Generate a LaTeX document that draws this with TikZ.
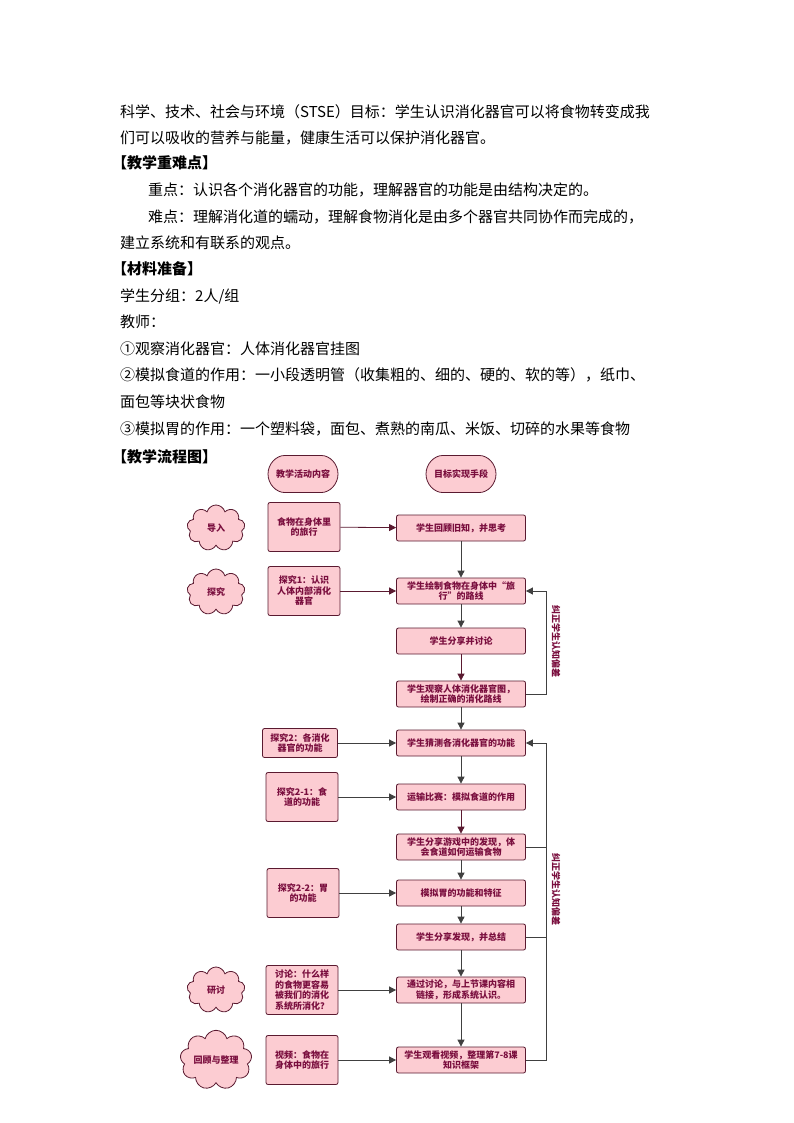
\documentclass[tikz,border=0pt]{standalone}
\usepackage{fontspec}
\setmainfont{Liberation Serif}
\newfontfamily\cjk{Noto Sans CJK SC}
\XeTeXlinebreaklocale "zh"
\usetikzlibrary{positioning,shapes.symbols,shapes.misc,arrows.meta}
\definecolor{boxfill}{HTML}{FCCCD2}
\definecolor{boxline}{HTML}{5A1A30}
\definecolor{boxtext}{HTML}{7A0E3E}
\tikzset{
  textline/.style={anchor=west,inner sep=0pt,font=\cjk\fontsize{15}{16}\selectfont},
  headline/.style={textline,font=\cjk\bfseries\fontsize{15}{16}\selectfont},
  stepbox/.style={draw=boxline,thick,fill=boxfill,rounded corners=2,
    minimum width=129,minimum height=26,align=center,text=boxtext,
    font=\cjk\bfseries\fontsize{9}{10.5}\selectfont,inner sep=1},
  leftbox/.style={stepbox,minimum width=72,minimum height=49},
  headbox/.style={stepbox,rounded rectangle,minimum width=72,minimum height=37},
  cloudbox/.style={draw=boxline,thick,fill=boxfill,cloud,cloud puffs=9,aspect=1.4,
    minimum width=58,minimum height=46,text=boxtext,font=\cjk\bfseries\fontsize{9}{10.5}\selectfont,inner sep=0},
  redarrow/.style={-{Triangle[length=7,width=7]},thick,draw=boxline},
  grayarrow/.style={-{Triangle[length=7,width=7]},thick,draw=black!75},
  sidelabel/.style={rotate=-90,text=boxtext,font=\cjk\bfseries\fontsize{9}{10.5}\selectfont},
}
\begin{document}
\begin{tikzpicture}[x=1pt,y=-1pt]
\useasboundingbox[fill=white] (0,0) rectangle (794,1123);

% TEXT
\node[textline] at (120,112) {科学、技术、社会与环境（STSE）目标：学生认识消化器官可以将食物转变成我};
\node[textline] at (120,138) {们可以吸收的营养与能量，健康生活可以保护消化器官。};
\node[headline] at (112,163) {【教学重难点】};
\node[textline] at (148,190) {重点：认识各个消化器官的功能，理解器官的功能是由结构决定的。};
\node[textline] at (148,217) {难点：理解消化道的蠕动，理解食物消化是由多个器官共同协作而完成的，};
\node[textline] at (120,243) {建立系统和有联系的观点。};
\node[headline] at (112,269) {【材料准备】};
\node[textline] at (120,296) {学生分组：2人/组};
\node[textline] at (120,322) {教师：};
\node[textline] at (120,349) {①观察消化器官：人体消化器官挂图};
\node[textline] at (120,375) {②模拟食道的作用：一小段透明管（收集粗的、细的、硬的、软的等），纸巾、};
\node[textline] at (120,402) {面包等块状食物};
\node[textline] at (120,429) {③模拟胃的作用：一个塑料袋，面包、煮熟的南瓜、米饭、切碎的水果等食物};
\node[headline] at (112,457) {【教学流程图】};

% HEADERS
\node[headbox] (headL) at (303,474) {教学活动内容};
\node[headbox] (headR) at (461,474) {目标实现手段};

% CLOUDS
\node[cloudbox] (cIntro) at (216,528) {导入};
\node[cloudbox] (cExplore) at (216,592) {探究};
\node[cloudbox] (cDiscuss) at (216,990) {研讨};
\node[cloudbox] (cReview) at (216,1060) {回顾与整理};

% LEFT BOXES
\node[leftbox] (lTrip) at (304,527) {食物在身体里\\的旅行};
\node[leftbox] (lOne) at (304,591) {探究1：认识\\人体内部消化\\器官};
\node[leftbox,minimum height=29,minimum width=75] (lTwo) at (300,743) {探究2：各消化\\器官的功能};
\node[leftbox] (lTwoA) at (302,797) {探究2-1：食\\道的功能};
\node[leftbox] (lTwoB) at (303,893) {探究2-2：胃\\的功能};
\node[leftbox] (lTalk) at (302,990) {讨论：什么样\\的食物更容易\\被我们的消化\\系统所消化？};
\node[leftbox] (lVideo) at (302,1060) {视频：食物在\\身体中的旅行};

% RIGHT BOXES
\node[stepbox] (rRecall) at (461,528) {学生回顾旧知，并思考};
\node[stepbox] (rDraw) at (461,591) {学生绘制食物在身体中“旅\\行”的路线};
\node[stepbox] (rShare) at (461,641) {学生分享并讨论};
\node[stepbox] (rObserve) at (461,694) {学生观察人体消化器官图，\\绘制正确的消化路线};
\node[stepbox] (rGuess) at (461,743) {学生猜测各消化器官的功能};
\node[stepbox] (rRace) at (461,797) {运输比赛：模拟食道的作用};
\node[stepbox] (rGame) at (461,847) {学生分享游戏中的发现，体\\会食道如何运输食物};
\node[stepbox] (rStomach) at (461,893) {模拟胃的功能和特征};
\node[stepbox] (rSum) at (461,937) {学生分享发现，并总结};
\node[stepbox] (rLink) at (461,990) {通过讨论，与上节课内容相\\链接，形成系统认识。};
\node[stepbox] (rFrame) at (461,1060) {学生观看视频，整理第7-8课\\知识框架};

% ARROWS
\draw[redarrow] (lTrip) -- (rRecall);
\draw[redarrow] (lOne) -- (rDraw);
\draw[grayarrow] (lTwo) -- (rGuess);
\draw[grayarrow] (lTwoA) -- (rRace);
\draw[grayarrow] (lTwoB) -- (rStomach);
\draw[grayarrow] (lTalk) -- (rLink);
\draw[grayarrow] (lVideo) -- (rFrame);
\draw[grayarrow] (rRecall) -- (rDraw);
\draw[grayarrow] (rDraw) -- (rShare);
\draw[redarrow] (rShare) -- (rObserve);
\draw[grayarrow] (rObserve) -- (rGuess);
\draw[grayarrow] (rGuess) -- (rRace);
\draw[redarrow] (rRace) -- (rGame);
\draw[grayarrow] (rGame) -- (rStomach);
\draw[grayarrow] (rStomach) -- (rSum);
\draw[grayarrow] (rSum) -- (rLink);
\draw[grayarrow] (rLink) -- (rFrame);

% FEEDBACK
\draw[grayarrow] (rObserve.east) -| (546,591) -- (rDraw.east);
\draw[grayarrow] (rFrame.east) -| (546,743) -- (rGuess.east);
\draw[thick,black!75] (rGame.east) -- (546,847);
\draw[thick,black!75] (rSum.east) -- (546,937);
\node[sidelabel] (fbOne) at (556,641) {纠正学生认知偏差};
\node[sidelabel] (fbTwo) at (556,889) {纠正学生认知偏差};
\end{tikzpicture}
\end{document}
